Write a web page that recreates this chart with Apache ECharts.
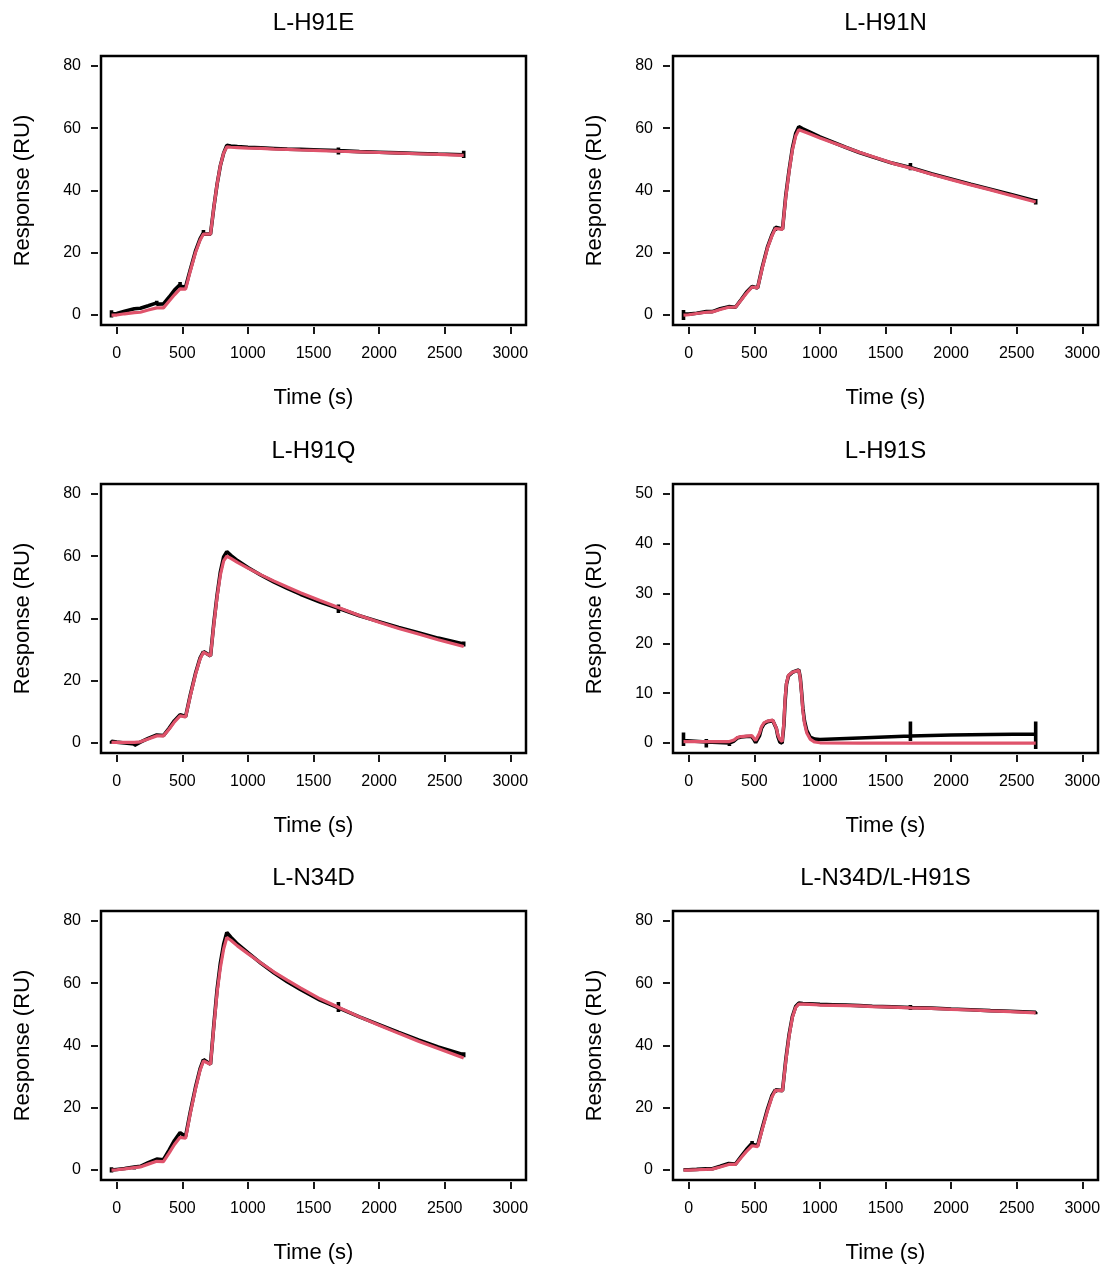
<!DOCTYPE html>
<html><head><meta charset="utf-8">
<script src="https://cdn.jsdelivr.net/npm/echarts@6/dist/echarts.min.js"></script>
<style>html,body{margin:0;padding:0;background:#fff}#c{width:1106px;height:1268px}</style>
</head><body><div id="c"></div>
<script>
// ---- Data ----
const titles = ["L-H91E", "L-H91N", "L-H91Q", "L-H91S", "L-N34D", "L-N34D/L-H91S"];
const xTicks = [0, 500, 1000, 1500, 2000, 2500, 3000];
const yTicks80 = [0, 20, 40, 60, 80];
const yTicks50 = [0, 10, 20, 30, 40, 50];

// shared time grid (s) for the five standard panels
const time = [-40, 0, 60, 134, 180, 240, 305, 356, 400, 440, 483, 525, 560, 600, 635, 661, 715, 740, 765, 790, 815,
              839, 870, 920, 1000, 1100, 1200, 1300, 1400, 1550, 1690, 1850, 2000, 2150, 2300, 2450, 2645];

const fitH91E  = [0, 0, 0.4, 0.8, 0.9, 1.6, 2.3, 2.3, 4.5, 6.5, 8.4, 8.3, 14, 20, 24, 26, 26, 34.5, 42, 48, 52,
                  54, 53.9, 53.8, 53.6, 53.5, 53.3, 53.2, 53.0, 52.8, 52.6, 52.4, 52.2, 52.0, 51.8, 51.6, 51.3];
const dataH91E = [0.3, 0.5, 1.2, 2.0, 2.2, 3.0, 3.9, 3.6, 5.8, 8.0, 9.8, 9.0, 14.5, 20.5, 24.5, 26.5, 26, 34.5, 42, 48, 52,
                  54.5, 54.3, 54.1, 53.9, 53.7, 53.5, 53.3, 53.2, 53.0, 52.8, 52.5, 52.3, 52.1, 51.9, 51.7, 51.5];
const spikeH91E = [[-40, -0.8, 1.5], [134, 1.5, 2.6], [305, 3.5, 4.6], [483, 9.2, 10.6], [661, 26, 27.3], [1690, 51.6, 53.8], [2645, 50.4, 52.8]];

const fitH91N  = [0, 0.1, 0.5, 0.9, 1.0, 1.8, 2.5, 2.5, 4.8, 7.0, 9.0, 8.7, 15, 21.5, 25.5, 27.8, 27.5, 38, 46, 53, 57.5,
                  59.5, 59.0, 58.2, 56.9, 55.3, 53.8, 52.3, 50.9, 48.8, 47.2, 45.2, 43.5, 41.8, 40.2, 38.5, 36.3];
const dataH91N = [0.3, 0.3, 0.6, 1.1, 1.1, 2.0, 2.7, 2.5, 5.0, 7.3, 9.2, 8.7, 15.3, 21.8, 25.8, 28.2, 27.6, 38.5, 46.5, 53.5, 58.3,
                  60.5, 59.8, 58.8, 57.2, 55.5, 53.8, 52.2, 50.8, 48.8, 47.4, 45.4, 43.7, 42.0, 40.4, 38.8, 36.6];
const spikeH91N = [[-40, -1.6, 1.6], [134, 0.5, 1.4], [305, 2.3, 3.2], [483, 8.8, 9.6], [661, 27, 28.8], [1690, 46.5, 48.8], [2645, 35.5, 37.3]];

const fitH91Q  = [0.2, 0.2, 0.2, 0.2, 0.4, 1.3, 2.3, 2.3, 4.5, 6.8, 8.7, 8.4, 15, 22, 27, 29.2, 28, 38, 47, 54, 58.5,
                  60, 59.3, 58.0, 56.2, 54.0, 52.0, 50.1, 48.3, 45.8, 43.5, 41.0, 38.8, 36.8, 35.0, 33.2, 31.0];
const dataH91Q = [0.6, 0.3, 0.0, -0.3, 0.3, 1.5, 2.6, 2.4, 4.8, 7.2, 9.1, 8.5, 15.3, 22.3, 27.3, 29.4, 28, 38.5, 47.5, 55, 59.8,
                  61.5, 60.3, 58.6, 56.4, 53.9, 51.7, 49.7, 47.8, 45.3, 43.3, 40.9, 39.0, 37.1, 35.4, 33.7, 31.8];
const spikeH91Q = [[-40, -0.2, 1.0], [134, -0.8, 0.5], [305, 2.0, 3.0], [483, 8.8, 9.5], [661, 28.5, 29.8], [1690, 41.8, 44.5], [2645, 31, 32.6]];

const fitN34D  = [0, 0.1, 0.4, 0.8, 1.0, 1.9, 2.8, 2.7, 5.5, 8.2, 10.5, 10.2, 18, 26, 32, 35, 34, 46, 57, 65, 71,
                  74.7, 73.8, 72.0, 69.5, 66.5, 63.6, 61.0, 58.5, 55.0, 52.3, 49.2, 46.5, 43.9, 41.4, 39.0, 36.0];
const dataN34D = [0, 0.2, 0.5, 1.0, 1.2, 2.4, 3.5, 3.3, 6.5, 9.5, 12, 10.8, 18.5, 26.5, 32.5, 35.5, 34, 46.5, 58, 66.5, 72.5,
                  76.3, 74.8, 72.6, 69.8, 66.4, 63.3, 60.5, 58.0, 54.6, 52.1, 49.2, 46.7, 44.2, 41.8, 39.5, 37.0];
const spikeN34D = [[-40, -0.8, 0.9], [134, 0.2, 1.5], [305, 3, 4], [483, 11.5, 12.5], [661, 34.5, 35.8], [1690, 50.8, 54], [2645, 36.2, 37.8]];

const fitN34DH91S  = [0, 0, 0.1, 0.2, 0.3, 1.0, 1.8, 1.8, 4.0, 6.0, 7.8, 7.5, 13, 19, 23.5, 25.6, 25.5, 35, 43, 49, 52.2,
                      53.3, 53.3, 53.2, 53.0, 52.9, 52.8, 52.7, 52.5, 52.3, 52.1, 51.9, 51.6, 51.4, 51.1, 50.9, 50.5];
const dataN34DH91S = [0.1, 0.1, 0.2, 0.4, 0.4, 1.2, 2.1, 1.9, 4.4, 6.6, 8.6, 7.8, 13.4, 19.5, 24, 25.8, 25.5, 35.5, 43.5, 49.3, 52.5,
                      53.6, 53.5, 53.4, 53.2, 53.1, 53.0, 52.8, 52.6, 52.4, 52.2, 52.0, 51.7, 51.5, 51.2, 51.0, 50.7];
const spikeN34DH91S = [[-40, -0.3, 0.5], [134, -0.3, 0.9], [305, 1.5, 2.5], [483, 8.3, 9.3], [661, 24.8, 26.2], [1690, 51.4, 53], [2645, 50, 51.3]];

// L-H91S has its own, denser time grid
const timeH91S = [-40, 134, 310, 345, 370, 400, 440, 480, 495, 510, 525, 540, 555, 575, 600, 640, 655, 668, 680, 695, 712, 725, 735, 745, 760, 790, 839, 850, 860, 870, 882, 900, 925, 960, 1000, 1300, 1690, 2000, 2300, 2645];
const fitH91S  = [0.3, 0.3, 0.3, 0.6, 1.1, 1.3, 1.4, 1.5, 1.2, 0.5, 0.3, 2.0, 3.3, 4.1, 4.4, 4.6, 4.2, 3.0, 1.6, 0.7, 0.3, 4.0, 9.0, 12.0, 13.6, 14.2, 14.6, 13.0, 10.0, 6.5, 4.0, 2.0, 0.8, 0.2, 0.05, 0, 0, 0, 0, 0];
const dataH91S = [0.5, 0.2, 0.0, 0.4, 1.0, 1.2, 1.3, 1.3, 0.8, 0.1, 0.0, 1.5, 3.0, 3.9, 4.3, 4.5, 4.1, 2.9, 1.3, 0.2, 0.0, 3.5, 8.5, 11.8, 13.5, 14.2, 14.7, 13.2, 10.3, 7.0, 4.5, 2.5, 1.2, 0.8, 0.7, 1.0, 1.4, 1.6, 1.7, 1.8];
const spikeH91S = [[-40, -0.6, 2.1], [134, -0.9, 0.8], [310, -0.6, 0.5], [1690, 0.4, 4.3], [2645, -1.2, 4.3]];

// ---- Build ----
const panels = [
  {t: time, fit: fitH91E, data: dataH91E, spikes: spikeH91E, yMax: 80, ticks: yTicks80},
  {t: time, fit: fitH91N, data: dataH91N, spikes: spikeH91N, yMax: 80, ticks: yTicks80},
  {t: time, fit: fitH91Q, data: dataH91Q, spikes: spikeH91Q, yMax: 80, ticks: yTicks80},
  {t: timeH91S, fit: fitH91S, data: dataH91S, spikes: spikeH91S, yMax: 50, ticks: yTicks50},
  {t: time, fit: fitN34D, data: dataN34D, spikes: spikeN34D, yMax: 80, ticks: yTicks80},
  {t: time, fit: fitN34DH91S, data: dataN34DH91S, spikes: spikeN34DH91S, yMax: 80, ticks: yTicks80}
];

const colLeft = [101, 673], rowTop = [56, 484, 911], gw = 425, gh = 269;
const FONT = 'Liberation Sans, Arial, sans-serif';
const grids = [], xAxes = [], yAxes = [], series = [], graphics = [];

panels.forEach((p, i) => {
  const c = i % 2, r = Math.floor(i / 2);
  const left = colLeft[c], top = rowTop[r];
  grids.push({left: left, top: top, width: gw, height: gh, show: true, borderColor: '#000', borderWidth: 2.5, backgroundColor: 'transparent', containLabel: false});
  const pad = p.yMax * 0.04;
  xAxes.push({
    type: 'value', gridIndex: i, min: -120, max: 3120, offset: 2, position: 'bottom',
    axisLine: {show: false, onZero: false},
    axisTick: {show: true, inside: false, length: 7, lineStyle: {color: '#000', width: 1.8}, customValues: xTicks},
    axisLabel: {show: true, color: '#000', fontSize: 16, fontFamily: FONT, margin: 19, customValues: xTicks, formatter: v => String(v)},
    splitLine: {show: false},
    name: 'Time (s)', nameLocation: 'middle', nameGap: 60,
    nameTextStyle: {color: '#000', fontSize: 22, fontFamily: FONT}
  });
  yAxes.push({
    type: 'value', gridIndex: i, min: -pad, max: p.yMax + pad, offset: 3, position: 'left',
    axisLine: {show: false, onZero: false},
    axisTick: {show: true, inside: false, length: 7, lineStyle: {color: '#000', width: 1.8}, customValues: p.ticks},
    axisLabel: {show: true, color: '#000', fontSize: 16, fontFamily: FONT, margin: 17, customValues: p.ticks, formatter: v => String(v)},
    splitLine: {show: false},
    name: 'Response (RU)', nameLocation: 'middle', nameGap: 64, nameRotate: 90,
    nameTextStyle: {color: '#000', fontSize: 22, fontFamily: FONT}
  });
  // black measured data, with injection spikes
  const spikeMap = {};
  p.spikes.forEach(s => { spikeMap[s[0]] = s; });
  const blk = [];
  p.t.forEach((t, k) => {
    blk.push([t, p.data[k]]);
    if (spikeMap[t]) {
      blk.push([t, spikeMap[t][2]]);
      blk.push([t, spikeMap[t][1]]);
      blk.push([t, p.data[k]]);
    }
  });
  series.push({type: 'line', xAxisIndex: i, yAxisIndex: i, data: blk, showSymbol: false, symbol: 'none',
    lineStyle: {color: '#000', width: 3.6}, silent: true, z: 2, clip: true});
  series.push({type: 'line', xAxisIndex: i, yAxisIndex: i, data: p.t.map((t, k) => [t, p.fit[k]]), showSymbol: false, symbol: 'none',
    lineStyle: {color: '#DF536B', width: 3.2}, silent: true, z: 3, clip: true});
  graphics.push({type: 'text', x: left + gw / 2, y: top - 33,
    style: {text: titles[i], fill: '#000', font: '24px ' + FONT, textAlign: 'center', textVerticalAlign: 'middle'}});
});

const chart = echarts.init(document.getElementById('c'), null, {renderer: 'canvas'});
chart.setOption({
  animation: false,
  backgroundColor: '#fff',
  grid: grids, xAxis: xAxes, yAxis: yAxes, series: series, graphic: graphics
});
</script></body></html>
